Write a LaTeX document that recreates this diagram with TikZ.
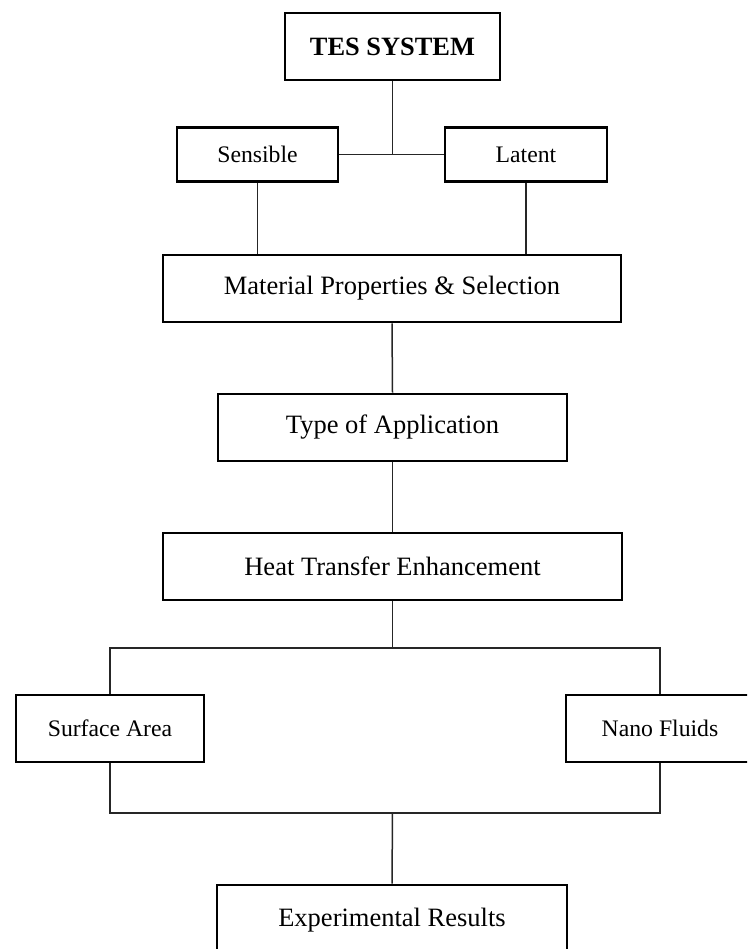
\documentclass[tikz,border=0pt]{standalone}
\usepackage{fontspec}
\setmainfont{Liberation Serif}
\begin{document}
\begin{tikzpicture}[x=1pt,y=-1pt,
  box/.style={draw=black,line width=2.6pt,fill=white,inner sep=0pt,anchor=center,
    font=\fontsize{26.5}{30}\selectfont},
  smallbox/.style={box,font=\fontsize{23.7}{28}\selectfont},
  link/.style={draw=black!85,line width=1.5pt}]
\useasboundingbox (0,0) rectangle (747,949);
\clip (0,0) rectangle (747,949);
\fill[white] (0,0) rectangle (747,949);
% links first so boxes cover the ends
\coordinate (split) at (392.5,648);
\coordinate (join) at (392.5,813);
\node[box,minimum width=215pt,minimum height=67pt,font=\fontsize{26.4}{30}\selectfont\bfseries] (tes) at (392.5,46.5) {TES SYSTEM};
\node[smallbox,minimum width=161pt,minimum height=54pt] (sens) at (257.5,154.5) {Sensible};
\node[smallbox,minimum width=162pt,minimum height=54pt] (lat) at (526,154.5) {Latent};
\node[box,minimum width=458pt,minimum height=67pt] (mat) at (392,288.5) {Material Properties \& Selection};
\node[box,minimum width=349pt,minimum height=67pt] (type) at (392.5,427.5) {Type of Application};
\node[box,minimum width=459pt,minimum height=67pt] (heat) at (392.5,566.5) {Heat Transfer Enhancement};
\node[smallbox,minimum width=188pt,minimum height=67pt] (surf) at (110,728.5) {Surface Area};
\node[smallbox,minimum width=188pt,minimum height=67pt] (nano) at (660,728.5) {Nano Fluids};
\node[box,minimum width=350pt,minimum height=70pt] (exp) at (392,920) {Experimental Results};
% connectors
\draw[link] (sens.east) -- (lat.west);
\draw[link] (tes.south) -- (tes.south |- sens.east);
\draw[link] (sens.south) -- (sens.south |- mat.north);
\draw[link] (lat.south) -- (lat.south |- mat.north);
\draw[link] (mat.south) -- (type.north);
\draw[link] (type.south) -- (heat.north);
\draw[link] (heat.south) -- (split);
\draw[link] (surf.north) |- (split) -| (nano.north);
\draw[link] (surf.south) |- (join) -| (nano.south);
\draw[link] (join) -- (exp.north);
\end{tikzpicture}
\end{document}
